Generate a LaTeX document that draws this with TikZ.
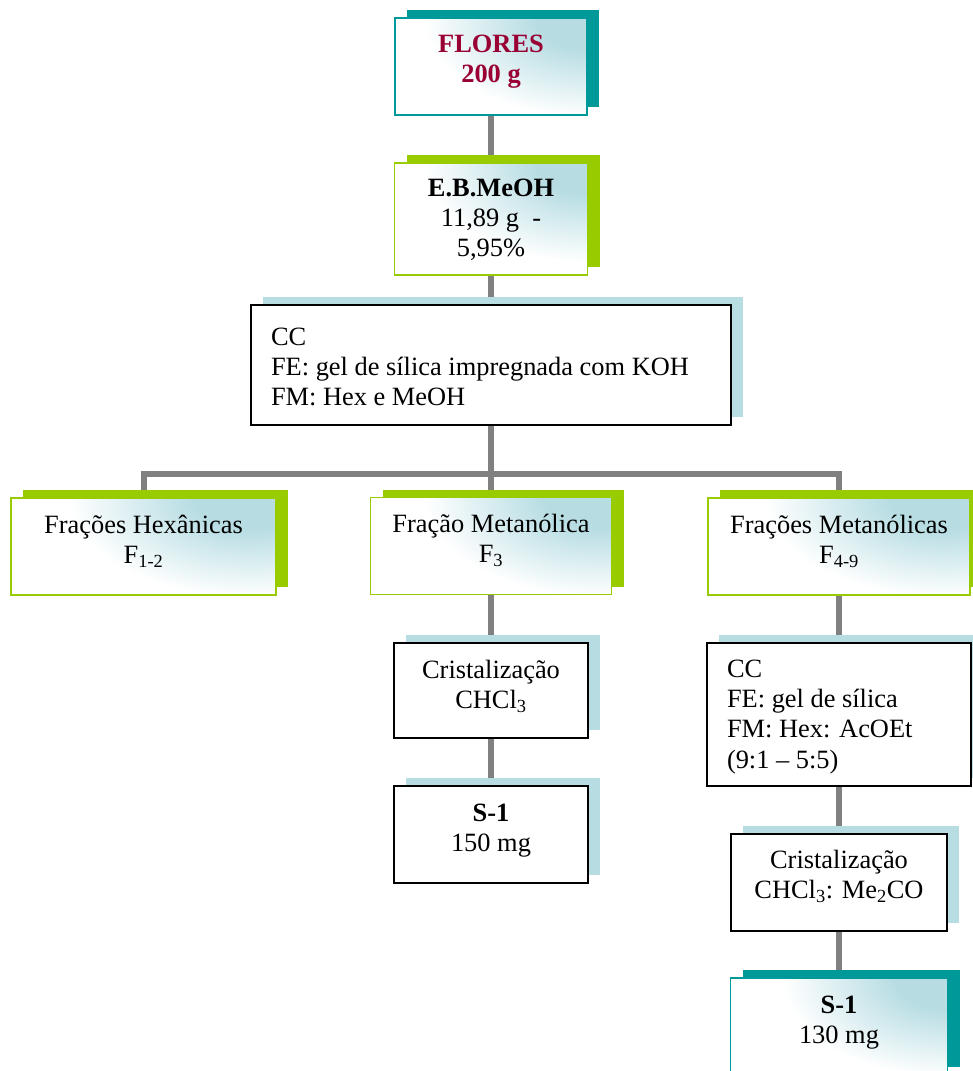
\documentclass[tikz,border=0pt]{standalone}
\usepackage{fontspec}
\setmainfont{Liberation Serif}
\usetikzlibrary{shadows,backgrounds}

\definecolor{tealshadow}{RGB}{0,153,153}
\definecolor{limegreen}{RGB}{153,204,0}
\definecolor{paleblue}{RGB}{183,221,227}
\definecolor{wine}{RGB}{153,0,51}
\definecolor{linkgray}{RGB}{128,128,128}

% pale blue glow that dies out well inside its ellipse
\pgfdeclareradialshading{cornerglow}{\pgfpoint{0bp}{0bp}}{color(0bp)=(paleblue); color(6bp)=(paleblue); color(19bp)=(white); color(50bp)=(white)}

% box contents: width, height (pt), first baseline offset from the top (optional)
\newcommand\ctext[4][35]{\parbox[c][#3pt][t]{#2pt}{\centering\rule{0pt}{#1pt}#4\par}}
\newcommand\ltext[4][35]{\parbox[c][#3pt][t]{#2pt}{\raggedright\leftskip=20pt\rule{0pt}{#1pt}#4\par}}

\tikzset{
  every node/.style={font=\fontsize{26.4pt}{30.4pt}\selectfont, inner sep=0pt},
  glowbox/.style={fill=white, draw=#1, line width=1.8pt,
    path picture={\shade[shading=cornerglow]
      (path picture bounding box.north east) ellipse [x radius=215pt, y radius=130pt];},
    general shadow={shadow xshift=12pt, shadow yshift=8pt, fill=#1, draw=none}},
  plainbox/.style={fill=white, draw=black, line width=1.8pt,
    general shadow={shadow xshift=12pt, shadow yshift=8pt, fill=paleblue, draw=none}},
  conn/.style={draw=linkgray, line width=6pt, line join=miter},
}

\begin{document}
\begin{tikzpicture}[x=1pt, y=-1pt]
\useasboundingbox (0,0) rectangle (972,1071);

% main column
\node[glowbox=tealshadow, text=wine] (flores) at (491,66.5)
  {\ctext[34]{192}{97}{\bfseries FLORES\\200 g}};
\node[glowbox=limegreen] (eb) at (491,219)
  {\ctext[33]{193}{112}{\textbf{E.B.MeOH}\\11,89 g\ \ -\\5,95\%}};
\node[plainbox] (cc1) at (491,365)
  {\ltext[40]{480}{120}{CC\\FE: gel de sílica impregnada com KOH\\FM: Hex e MeOH}};

% fractions
\node[glowbox=limegreen] (fh) at (143.5,546.5)
  {\ctext{265}{97}{Frações Hexânicas\\F\textsubscript{1-2}}};
\node[glowbox=limegreen] (fm) at (491,546)
  {\ctext{241}{97}{Fração Metanólica\\F\textsubscript{3}}};
\node[glowbox=limegreen] (fms) at (839,546.5)
  {\ctext{262}{97}{Frações Metanólicas\\F\textsubscript{4-9}}};

% methanolic fraction F3
\node[plainbox] (cr1) at (491,690.5)
  {\ctext{194}{95}{Cristalização\\CHCl\textsubscript{3}}};
\node[plainbox] (s1a) at (491,834.5)
  {\ctext{194}{97}{\textbf{S-1}\\150 mg}};

% methanolic fractions F4-9
\node[plainbox] (cc2) at (839,714.5)
  {\ltext[34]{264}{143}{CC\\FE: gel de sílica\\FM: Hex: AcOEt\\(9:1 -- 5:5)}};
\node[plainbox] (cr2) at (839,882.5)
  {\ctext[34]{216}{97}{Cristalização\\CHCl\textsubscript{3}: Me\textsubscript{2}CO}};
\node[glowbox=tealshadow] (s1b) at (839,1026.5)
  {\ctext{217}{97}{\textbf{S-1}\\130 mg}};

\coordinate (bar) at (491,474);

\begin{scope}[on background layer]
  \draw[conn] (flores.south) -- (eb.north);
  \draw[conn] (eb.south) -- (cc1.north);
  \draw[conn] (cc1.south) -- (cc1.south |- bar);
  \draw[conn] (fh.north) -- (fh.north |- bar) -- (fms.north |- bar) -- (fms.north);
  \draw[conn] (fm.north) -- (fm.north |- bar);
  \draw[conn] (fm.south) -- (cr1.north);
  \draw[conn] (cr1.south) -- (s1a.north);
  \draw[conn] (fms.south) -- (cc2.north);
  \draw[conn] (cc2.south) -- (cr2.north);
  \draw[conn] (cr2.south) -- (s1b.north);
\end{scope}
\end{tikzpicture}
\end{document}
